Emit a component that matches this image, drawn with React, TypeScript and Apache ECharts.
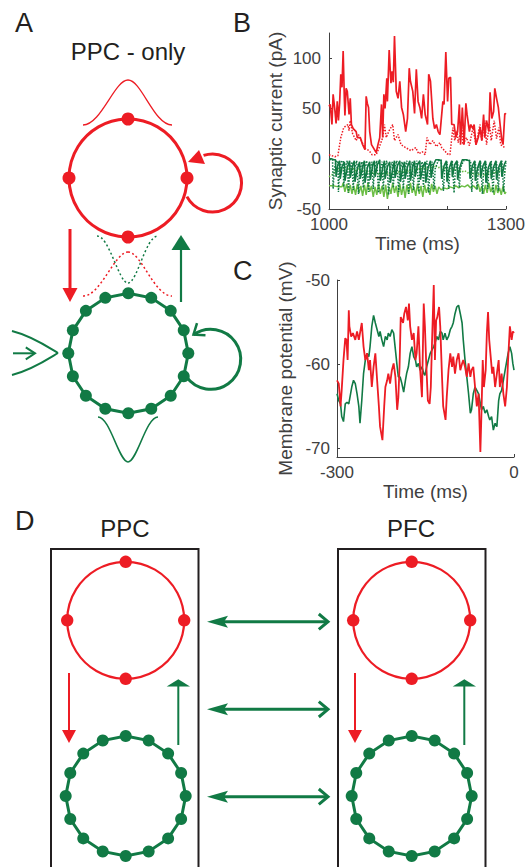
import React, { useEffect, useRef } from "react";
import * as echarts from "echarts";

// ---------- Panel B: synaptic currents (pA) vs time (ms) ----------
const bExcRed: [number, number][] = [[1000,52],[1002,54],[1005,34],[1007,64],[1010,48],[1012,35],[1014,57],[1016,38],[1018,55],[1020,84],[1022,71],[1024,107],[1026,60],[1027,43],[1029,70],[1031,67],[1034,44],[1036,60],[1038,34],[1041,30],[1046,27],[1048,21],[1053,21],[1057,14],[1061,9],[1063,62],[1065,55],[1067,51],[1069,27],[1072,14],[1076,10],[1080,6],[1083,14],[1086,21],[1089,54],[1091,21],[1093,64],[1095,50],[1098,80],[1099,57],[1102,108],[1105,75],[1107,87],[1109,76],[1111,122],[1114,67],[1117,60],[1120,77],[1123,51],[1126,44],[1130,27],[1133,40],[1136,90],[1138,77],[1142,67],[1145,45],[1148,89],[1151,57],[1154,51],[1157,40],[1160,64],[1163,44],[1167,34],[1169,84],[1172,77],[1176,40],[1179,30],[1182,34],[1185,27],[1188,24],[1193,57],[1195,54],[1198,106],[1201,57],[1203,80],[1206,81],[1208,34],[1212,34],[1215,21],[1218,27],[1221,54],[1223,14],[1226,51],[1229,14],[1232,55],[1234,44],[1238,27],[1240,34],[1244,30],[1246,34],[1249,14],[1253,21],[1256,31],[1259,18],[1262,44],[1264,21],[1267,38],[1271,27],[1273,66],[1276,40],[1279,47],[1281,70],[1284,60],[1287,51],[1290,34],[1293,18],[1295,14],[1298,45],[1300,44]];
const bExcRedDotted: [number, number][] = [[1000,4],[1005,3],[1010,2],[1015,3],[1020,21],[1025,31],[1032,34],[1034,28],[1036,38],[1040,25],[1046,18],[1050,24],[1058,14],[1062,10],[1068,8],[1073,4],[1080,4],[1085,11],[1091,21],[1094,34],[1097,21],[1102,28],[1108,34],[1111,18],[1117,24],[1122,14],[1130,11],[1139,8],[1147,11],[1152,5],[1158,7],[1163,4],[1166,21],[1171,14],[1176,18],[1182,12],[1188,16],[1191,11],[1196,8],[1200,5],[1205,4],[1210,31],[1213,18],[1217,28],[1219,16],[1225,31],[1227,14],[1233,21],[1238,13],[1244,31],[1249,14],[1256,34],[1259,18],[1264,38],[1267,14],[1272,34],[1275,18],[1280,38],[1284,20],[1288,31],[1291,14],[1295,12],[1300,11]];
const bInhDark: [number, number][] = [[1000,-1],[1004,0],[1008,-1],[1011,-1],[1012,-18],[1015,-6],[1018,-2],[1019,-20],[1022,-8],[1026,-3],[1027,-22],[1031,-9],[1035,-2],[1036,-19],[1040,-7],[1043,-2],[1044,-23],[1048,-10],[1052,-3],[1053,-20],[1057,-8],[1060,-2],[1061,-24],[1065,-9],[1069,-3],[1070,-21],[1074,-7],[1077,-2],[1078,-18],[1082,-6],[1086,-1],[1087,-22],[1091,-9],[1094,-2],[1095,-20],[1099,-8],[1103,-3],[1104,-24],[1108,-10],[1111,-2],[1112,-19],[1116,-7],[1120,-2],[1121,-23],[1125,-9],[1128,-3],[1129,-20],[1133,-8],[1137,-2],[1138,-22],[1142,-8],[1145,-2],[1146,-18],[1150,-6],[1154,-2],[1155,-21],[1159,-8],[1163,-3],[1164,-24],[1168,-9],[1172,-2],[1173,-19],[1177,-6],[1181,-1],[1186,-1],[1190,-2],[1191,-20],[1195,-7],[1199,-2],[1200,-23],[1204,-9],[1208,-2],[1209,-18],[1213,-6],[1217,-2],[1218,-21],[1222,-8],[1226,-1],[1232,-1],[1238,-2],[1239,-20],[1243,-7],[1247,-2],[1248,-22],[1252,-9],[1256,-2],[1257,-19],[1261,-7],[1265,-2],[1266,-24],[1270,-9],[1274,-3],[1275,-20],[1279,-8],[1283,-2],[1284,-21],[1288,-8],[1292,-2],[1293,-18],[1297,-6],[1300,-2]];
const bInhDarkDotted: [number, number][] = [[1000,-1],[1006,-1],[1007,-30],[1009,-10],[1012,-3],[1015,-2],[1016,-33],[1018,-12],[1021,-3],[1024,-2],[1025,-28],[1027,-9],[1031,-2],[1033,-34],[1035,-11],[1039,-3],[1041,-31],[1043,-10],[1047,-2],[1050,-35],[1052,-12],[1056,-3],[1058,-29],[1060,-9],[1064,-2],[1067,-33],[1069,-11],[1073,-3],[1075,-30],[1077,-10],[1081,-2],[1084,-34],[1086,-12],[1090,-3],[1092,-31],[1094,-10],[1098,-2],[1101,-36],[1103,-12],[1107,-3],[1109,-29],[1111,-9],[1115,-2],[1118,-33],[1120,-11],[1124,-3],[1126,-30],[1128,-10],[1132,-2],[1135,-35],[1137,-12],[1141,-3],[1143,-31],[1145,-10],[1149,-2],[1152,-33],[1154,-11],[1158,-3],[1160,-28],[1162,-9],[1166,-2],[1169,-34],[1171,-11],[1175,-3],[1178,-30],[1180,-10],[1185,-2],[1190,-1],[1194,-32],[1196,-11],[1200,-3],[1203,-30],[1205,-10],[1209,-2],[1212,-34],[1214,-12],[1218,-3],[1221,-29],[1223,-9],[1228,-2],[1234,-1],[1240,-2],[1242,-33],[1244,-11],[1248,-3],[1251,-31],[1253,-10],[1257,-2],[1260,-35],[1262,-12],[1266,-3],[1269,-30],[1271,-10],[1275,-2],[1278,-34],[1280,-11],[1284,-3],[1287,-32],[1289,-10],[1293,-2],[1296,-33],[1298,-12],[1300,-4]];
const bInhLightDotted: [number, number][] = [[1000,-18],[1005,-16],[1010,-13],[1015,-11],[1020,-9],[1025,-10],[1030,-8],[1035,-11],[1040,-9],[1045,-12],[1050,-10],[1055,-13],[1060,-11],[1065,-14],[1070,-12],[1075,-15],[1080,-13],[1085,-16],[1090,-14],[1095,-17],[1100,-14],[1105,-16],[1110,-13],[1115,-15],[1120,-12],[1125,-14],[1130,-11],[1135,-13],[1140,-10],[1145,-12],[1150,-9],[1155,-11],[1160,-8],[1165,-10],[1170,-8],[1175,-9],[1180,-7],[1185,-9],[1190,-8],[1195,-10],[1200,-9],[1205,-11],[1210,-10],[1215,-12],[1220,-11],[1225,-13],[1230,-12],[1235,-14],[1240,-13],[1245,-15],[1250,-14],[1255,-16],[1260,-15],[1265,-17],[1270,-14],[1275,-16],[1280,-13],[1285,-15],[1290,-12],[1295,-14],[1300,-13]];
const bInhLight: [number, number][] = [[1000,-27],[1008,-27],[1016,-28],[1022,-28],[1024,-24],[1027,-33],[1030,-25],[1033,-34],[1036,-26],[1039,-35],[1042,-27],[1045,-36],[1048,-25],[1051,-34],[1054,-27],[1057,-37],[1060,-26],[1063,-36],[1066,-24],[1069,-33],[1072,-27],[1075,-38],[1078,-28],[1081,-36],[1084,-25],[1087,-35],[1090,-27],[1093,-38],[1096,-26],[1099,-40],[1102,-28],[1105,-35],[1108,-24],[1111,-34],[1114,-27],[1117,-38],[1120,-25],[1123,-36],[1126,-27],[1129,-39],[1132,-26],[1135,-35],[1138,-24],[1141,-34],[1144,-28],[1147,-37],[1150,-25],[1153,-35],[1156,-27],[1159,-38],[1162,-26],[1165,-34],[1168,-28],[1171,-36],[1174,-25],[1177,-33],[1180,-27],[1183,-35],[1186,-28],[1190,-31],[1195,-29],[1200,-30],[1205,-28],[1210,-29],[1215,-27],[1220,-29],[1225,-27],[1230,-28],[1235,-26],[1240,-29],[1245,-27],[1250,-30],[1253,-25],[1256,-33],[1259,-27],[1262,-35],[1265,-26],[1268,-34],[1271,-24],[1274,-33],[1277,-28],[1280,-36],[1283,-26],[1286,-34],[1289,-29],[1292,-36],[1295,-27],[1298,-35],[1300,-33]];
const bYTicks = [-50, 0, 50, 100];
const bXTicks = [1000, 1100, 1200, 1300];
const bXLabels = [1000, 1300];

// ---------- Panel C: membrane potential (mV) vs time (ms) ----------
const cRed: [number, number][] = [[-300,-61.9],[-297,-62.3],[-294,-65],[-292,-63],[-289,-59.5],[-286,-56.9],[-284,-57.1],[-282,-59.5],[-280,-53.6],[-279,-55.5],[-276,-56.7],[-273,-56.3],[-269,-57.1],[-266,-56.1],[-263,-57.1],[-261,-56.3],[-258,-55.1],[-255,-57.9],[-252,-59.5],[-249,-58.7],[-246,-60.7],[-244,-59.5],[-241,-62.7],[-238,-60.3],[-235,-58.7],[-232,-61.9],[-229,-65],[-227,-67.4],[-223,-69],[-220,-65],[-218,-62.7],[-215,-61.9],[-213,-61.1],[-210,-62.3],[-207,-60.7],[-204,-59.9],[-201,-61.5],[-198,-65.4],[-196,-63.9],[-194,-60.3],[-192,-54.4],[-188,-55.1],[-186,-54],[-183,-53.2],[-180,-54.8],[-178,-52.8],[-176,-55.5],[-173,-57.1],[-170,-56.3],[-167,-59.5],[-165,-58.7],[-162,-55.5],[-159,-60.7],[-156,-63.9],[-153,-52.8],[-151,-55.5],[-149,-59.5],[-146,-64.3],[-143,-64.7],[-141,-62.7],[-139,-57.5],[-136,-50.6],[-134,-59.5],[-132,-54.8],[-130,-54.4],[-127,-53.2],[-125,-55.5],[-122,-61.5],[-120,-65],[-116,-66.6],[-114,-63.9],[-111,-60.7],[-108,-58.7],[-105,-60.3],[-103,-59.1],[-100,-61.1],[-97,-59.5],[-94,-58.7],[-91,-60.7],[-88,-59.9],[-86,-59.5],[-83,-60.3],[-80,-61.5],[-77,-59.9],[-74,-61.5],[-72,-60.7],[-69,-60.3],[-66,-62.7],[-63,-65],[-60,-63.5],[-57,-70.4],[-55,-65.4],[-53,-59.5],[-51,-62.7],[-48,-60.7],[-46,-56.3],[-44,-53.8],[-42,-57.1],[-39,-59.5],[-37,-61.1],[-35,-60.3],[-32,-62.7],[-29,-61.1],[-26,-59.5],[-24,-62.7],[-21,-61.1],[-18,-63.5],[-15,-65],[-12,-62.7],[-10,-59.5],[-7,-55.5],[-4,-57.1],[-2,-56.1],[0,-56.3]];
const cGreen: [number, number][] = [[-300,-63.5],[-297,-64.3],[-294,-64.7],[-292,-66.2],[-289,-66.8],[-286,-64.7],[-283,-64.5],[-280,-64.7],[-277,-63.5],[-275,-62.7],[-272,-61.9],[-269,-62.3],[-266,-63.5],[-263,-65],[-261,-67],[-258,-64.3],[-255,-61.1],[-252,-59.5],[-249,-58.7],[-246,-59.1],[-244,-57.9],[-241,-55.5],[-238,-54.2],[-235,-55.1],[-232,-55.9],[-229,-56.7],[-227,-56.1],[-224,-57.1],[-221,-57.9],[-218,-56.7],[-215,-57.1],[-213,-56.3],[-210,-56.7],[-207,-55.9],[-204,-56.3],[-201,-58.3],[-198,-60.3],[-196,-61.5],[-193,-61.5],[-190,-62.3],[-187,-63.3],[-184,-61.9],[-182,-61.1],[-179,-60.3],[-176,-58.7],[-173,-57.9],[-170,-59.1],[-167,-59.5],[-165,-60.3],[-162,-59.9],[-159,-60.7],[-156,-60.3],[-153,-61.1],[-151,-61.3],[-148,-60.3],[-145,-59.5],[-142,-58.7],[-139,-58.3],[-136,-57.9],[-134,-57.5],[-131,-56.7],[-128,-57.1],[-125,-56.1],[-122,-56.3],[-120,-57.1],[-117,-56.3],[-114,-57.1],[-111,-56.7],[-108,-55.9],[-105,-55.5],[-103,-55.1],[-100,-54],[-97,-53.2],[-94,-53],[-91,-54],[-88,-55.1],[-86,-57.1],[-83,-59.5],[-80,-61.5],[-77,-63.5],[-74,-65.8],[-72,-65.4],[-69,-63.5],[-66,-62.7],[-63,-63.1],[-60,-63.5],[-57,-64.7],[-55,-65.4],[-52,-65],[-49,-65.8],[-46,-65.4],[-43,-66.2],[-41,-66.6],[-38,-66.2],[-35,-67.8],[-32,-67],[-29,-67.4],[-26,-64.3],[-24,-63.5],[-21,-63.1],[-18,-61.9],[-15,-60.7],[-12,-59.5],[-10,-58.7],[-7,-57.9],[-4,-58.7],[-2,-59.9],[0,-60.7]];
const cYTicks = [-70, -60, -50];
const cXTicks = [-300, 0];

const RED = "#ED1C24";
const DGREEN = "#117A45";
const LGREEN = "#6CBE45";
const INK = "#231F20";
const AXIS = "#404040";
const FONT = "'Liberation Sans', Arial, Helvetica, sans-serif";

const deg = (a: number) => (a * Math.PI) / 180;

function ringPoints(cx: number, cy: number, r: number, n: number): number[][] {
  const pts: number[][] = [];
  for (let k = 0; k < n; k++) {
    const t = deg((360 / n) * k);
    pts.push([cx + r * Math.sin(t), cy - r * Math.cos(t)]);
  }
  return pts;
}

function dots(pts: number[][], r: number, color: string) {
  return pts.map((p) => ({ type: "circle", shape: { cx: p[0], cy: p[1], r }, style: { fill: color }, z: 20 }));
}

function redRing(cx: number, cy: number, r: number, lw: number, dr: number) {
  return [
    { type: "circle", shape: { cx, cy, r }, style: { fill: "none", stroke: RED, lineWidth: lw }, z: 10 },
    ...dots(ringPoints(cx, cy, r, 4), dr, RED),
  ];
}

function greenRing(cx: number, cy: number, r: number, lw: number, dr: number) {
  const pts = ringPoints(cx, cy, r, 16);
  return [
    { type: "polygon", shape: { points: pts }, style: { fill: "none", stroke: DGREEN, lineWidth: lw }, z: 10 },
    ...dots(pts, dr, DGREEN),
  ];
}

function line(x1: number, y1: number, x2: number, y2: number, color: string, lw: number, dash?: number[]) {
  return { type: "line", shape: { x1, y1, x2, y2 }, style: { stroke: color, lineWidth: lw, lineDash: dash }, z: 10 };
}

function poly(points: number[][], color: string) {
  return { type: "polygon", shape: { points }, style: { fill: color }, z: 11 };
}

function bez(x1: number, y1: number, c1x: number, c1y: number, c2x: number, c2y: number, x2: number, y2: number, color: string, lw: number, dash?: number[]) {
  return {
    type: "bezierCurve",
    shape: { x1, y1, cpx1: c1x, cpy1: c1y, cpx2: c2x, cpy2: c2y, x2, y2 },
    style: { stroke: color, lineWidth: lw, fill: "none", lineDash: dash },
    z: 9,
  };
}

function bell(xl: number, xc: number, xr: number, yBase: number, yPeak: number, color: string, lw: number, dash?: number[]) {
  const w = xc - xl;
  return [
    bez(xl, yBase, xl + w * 0.4, yBase, xc - w * 0.3, yPeak, xc, yPeak, color, lw, dash),
    bez(xc, yPeak, xc + w * 0.3, yPeak, xr - w * 0.4, yBase, xr, yBase, color, lw, dash),
  ];
}

function text(str: string, x: number, y: number, size: number, align: string, color = INK) {
  return {
    type: "text",
    x,
    y,
    style: { text: str, fontSize: size, fontFamily: FONT, fill: color, align, verticalAlign: "middle" },
    z: 30,
  };
}

function chevron(tx: number, ty: number, dirDeg: number, len: number, spread: number, color: string, lw: number) {
  const back = deg(dirDeg + 180);
  const a1 = back + deg(spread);
  const a2 = back - deg(spread);
  return {
    type: "polyline",
    shape: {
      points: [
        [tx + len * Math.cos(a1), ty + len * Math.sin(a1)],
        [tx, ty],
        [tx + len * Math.cos(a2), ty + len * Math.sin(a2)],
      ],
    },
    style: { stroke: color, lineWidth: lw, fill: "none" },
    z: 11,
  };
}

function buildGraphics(): any[] {
  const g: any[] = [];
  // panel letters
  g.push(text("A", 15, 23, 27, "left"));
  g.push(text("B", 233, 23, 27, "left"));
  g.push(text("C", 233, 271, 27, "left"));
  g.push(text("D", 15, 521, 27, "left"));
  g.push(text("PPC - only", 128, 51, 24, "center"));
  g.push(text("PPC", 125, 528, 24, "center"));
  g.push(text("PFC", 411, 528, 24, "center"));

  // ---- Panel A ----
  g.push(...bell(83, 128, 172, 125, 80, RED, 1.3));
  g.push(...redRing(128, 178, 59, 3, 6.5));
  g.push({ type: "arc", shape: { cx: 212.5, cy: 183, r: 29, startAngle: deg(-108), endAngle: deg(152), clockwise: true }, style: { stroke: RED, lineWidth: 3, fill: "none" }, z: 9 });
  g.push(poly([[188, 162], [199, 150], [205, 164]], RED));
  g.push(line(70, 229, 70, 290, RED, 3));
  g.push(poly([[62.5, 288], [77.5, 288], [70, 302]], RED));
  g.push(line(181, 302, 181, 248, DGREEN, 2.2));
  g.push(poly([[171.5, 250], [181, 235], [190.5, 250]], DGREEN));
  g.push(...bell(97, 128, 158, 236, 283, DGREEN, 1.5, [2, 2.5]));
  g.push(...bell(83, 128, 172, 296, 252, RED, 1.5, [2, 2.5]));
  g.push(...greenRing(128.3, 353.3, 60, 3, 6));
  g.push(bez(12, 331, 32, 336, 48, 347, 58, 353, DGREEN, 2));
  g.push(bez(58, 353, 48, 359, 32, 370, 12, 375, DGREEN, 2));
  g.push(line(13, 353.3, 34, 353.3, DGREEN, 2));
  g.push(chevron(35, 353.3, 0, 11, 33, DGREEN, 2));
  g.push({ type: "arc", shape: { cx: 210.7, cy: 359.3, r: 30, startAngle: deg(-125), endAngle: deg(144), clockwise: true }, style: { stroke: DGREEN, lineWidth: 3, fill: "none" }, z: 9 });
  g.push(chevron(193.5, 334.7, 145, 12, 38, DGREEN, 2.5));
  g.push(...bell(98, 128, 158, 417, 462, DGREEN, 1.5));

  // ---- Panel D ----
  const boxes = [51, 338];
  for (const bx of boxes) {
    g.push({ type: "rect", shape: { x: bx, y: 549, width: 147.5, height: 340 }, style: { fill: "none", stroke: INK, lineWidth: 2 }, z: 8 });
  }
  const offs = [0, 286];
  for (const o of offs) {
    g.push(...redRing(125.7 + o, 620.3, 58.5, 2.2, 6.2));
    g.push(...greenRing(125.7 + o, 796, 60, 3, 6));
    g.push(line(69 + o, 673, 69 + o, 732, RED, 2));
    g.push(poly([[62 + o, 730], [76 + o, 730], [69 + o, 743]], RED));
    g.push(line(178.3 + o, 745, 178.3 + o, 684, DGREEN, 2));
    g.push(poly([[166.7 + o, 686.5], [178.3 + o, 679.3], [190 + o, 686.5]], DGREEN));
  }
  const ys = [621.7, 709.3, 796.7];
  for (const y of ys) {
    g.push(line(220, y, 327, y, DGREEN, 3));
    g.push(poly([[207, y], [228, y - 6], [224, y], [228, y + 6]], DGREEN));
    g.push(chevron(328, y, 0, 12, 40, DGREEN, 3));
  }
  return g;
}

function axisCommon() {
  return {
    axisLine: { show: true, onZero: false, lineStyle: { color: AXIS, width: 1 } },
    splitLine: { show: false },
    nameTextStyle: { fontSize: 19, color: AXIS, fontFamily: FONT },
    nameLocation: "middle" as const,
  };
}

const plain = (v: number) => String(v);

export default function App() {
  const ref = useRef<HTMLDivElement>(null);
  useEffect(() => {
    if (!ref.current) return;
    const chart = echarts.init(ref.current, null, { renderer: "svg" });
    const lbl = { fontSize: 17, color: AXIS, fontFamily: FONT, formatter: plain };
    const line2 = (data: [number, number][], color: string, width: number, type: string, xi: number, z = 2) => ({
      type: "line",
      xAxisIndex: xi,
      yAxisIndex: xi,
      data,
      showSymbol: false,
      symbol: "none",
      z,
      lineStyle: { color, width, type },
    });
    chart.setOption({
      animation: false,
      backgroundColor: "#ffffff",
      grid: [
        { left: 329, top: 33, width: 177, height: 176, containLabel: false },
        { left: 337, top: 280, width: 177, height: 177, containLabel: false },
      ],
      xAxis: [
        {
          type: "value", gridIndex: 0, min: 1000, max: 1300,
          ...axisCommon(),
          name: "Time (ms)", nameGap: 24,
          axisTick: { show: true, inside: true, length: 3, customValues: bXTicks, lineStyle: { color: AXIS } },
          axisLabel: { ...lbl, margin: 7, customValues: bXLabels },
        },
        {
          type: "value", gridIndex: 1, min: -300, max: 0,
          ...axisCommon(),
          name: "Time (ms)", nameGap: 24,
          axisTick: { show: true, inside: true, length: 3, customValues: cXTicks, lineStyle: { color: AXIS } },
          axisLabel: { ...lbl, margin: 7, customValues: cXTicks },
        },
      ],
      yAxis: [
        {
          type: "value", gridIndex: 0, min: -50, max: 125,
          ...axisCommon(),
          name: "Synaptic current (pA)", nameGap: 44,
          axisTick: { show: true, inside: true, length: 3, customValues: bYTicks, lineStyle: { color: AXIS } },
          axisLabel: { ...lbl, margin: 8, customValues: bYTicks },
        },
        {
          type: "value", gridIndex: 1, min: -71, max: -50,
          ...axisCommon(),
          name: "Membrane potential (mV)", nameGap: 42,
          axisTick: { show: true, inside: true, length: 3, customValues: cYTicks, lineStyle: { color: AXIS } },
          axisLabel: { ...lbl, margin: 7, customValues: cYTicks },
        },
      ],
      series: [
        line2(bInhLight, LGREEN, 1.5, "solid", 0),
        line2(bInhLightDotted, LGREEN, 1.5, "dotted", 0),
        line2(bInhDarkDotted, DGREEN, 1.5, "dotted", 0),
        line2(bInhDark, DGREEN, 1.6, "solid", 0),
        line2(bExcRedDotted, RED, 1.5, "dotted", 0),
        line2(bExcRed, RED, 1.7, "solid", 0),
        line2(cGreen, DGREEN, 1.6, "solid", 1),
        line2(cRed, RED, 1.8, "solid", 1),
      ],
      graphic: buildGraphics(),
    });
    return () => chart.dispose();
  }, []);
  return (
    <div
      ref={ref}
      style={{ position: "absolute", left: 0, top: 0, width: 532, height: 867, background: "#fff" }}
    />
  );
}
